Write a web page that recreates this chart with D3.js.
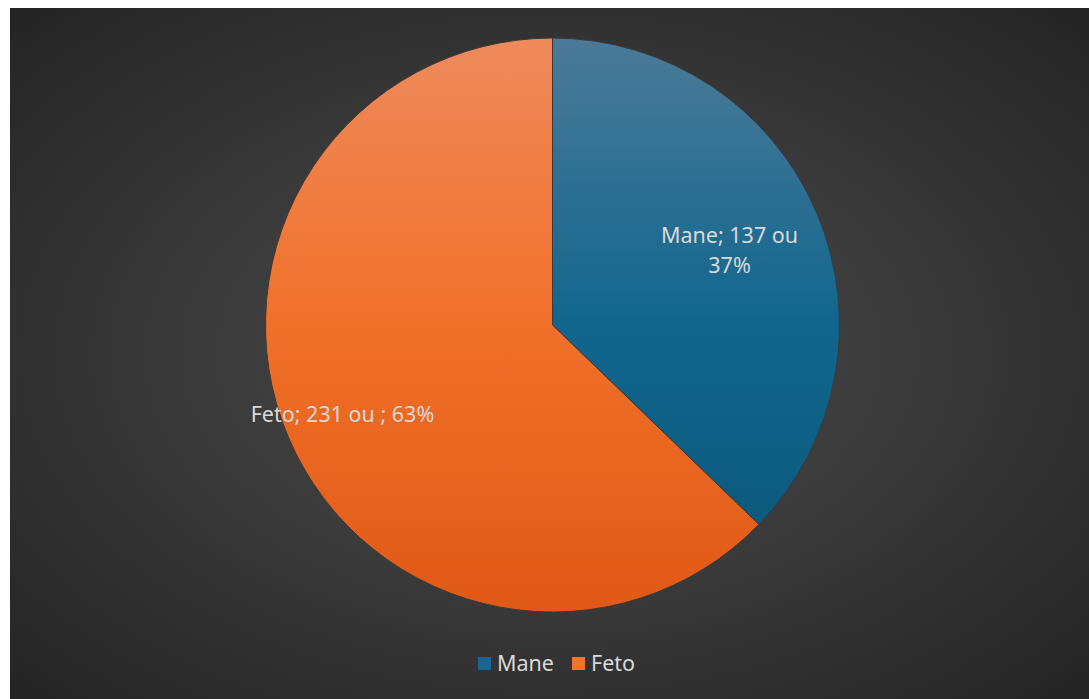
<!DOCTYPE html>
<html>
<head>
<meta charset="utf-8">
<script src="https://cdn.jsdelivr.net/npm/d3@7"></script>
<style>
  body { margin: 0; background: #ffffff; }
  svg text { font-family: "Noto Sans", "Open Sans", sans-serif; }
</style>
</head>
<body>
<script>
const categories = ["Mane", "Feto"];
const values = [137, 231];
const labels = ["Mane; 137 ou|37%", "Feto; 231 ou ; 63%"];

const W = 1089, H = 699;
const cx = 552.5, cy = 325, R = 287;

const svg = d3.select("body").append("svg")
  .attr("width", W)
  .attr("height", H);

const defs = svg.append("defs");

// background radial gradient
const bg = defs.append("radialGradient").attr("id", "bg")
  .attr("cx", "50%").attr("cy", "50%").attr("r", "70%");
bg.append("stop").attr("offset", "0%").attr("stop-color", "#4e4e4e");
bg.append("stop").attr("offset", "100%").attr("stop-color", "#242424");

const gradStops = [
  ["#4b7a98", "#11668e", "#0a5476"],
  ["#ef8a5c", "#f1702a", "#e05916"]
];
gradStops.forEach((s, i) => {
  const g = defs.append("linearGradient").attr("id", "g" + i)
    .attr("gradientUnits", "userSpaceOnUse")
    .attr("x1", 0).attr("y1", -R).attr("x2", 0).attr("y2", R);
  g.append("stop").attr("offset", "0%").attr("stop-color", s[0]);
  g.append("stop").attr("offset", "50%").attr("stop-color", s[1]);
  g.append("stop").attr("offset", "100%").attr("stop-color", s[2]);
});

svg.append("rect")
  .attr("x", 10).attr("y", 8)
  .attr("width", W - 10).attr("height", H - 8)
  .attr("fill", "url(#bg)");

const pie = d3.pie().sort(null).value(d => d)(values);
const arc = d3.arc().innerRadius(0).outerRadius(R);

const g = svg.append("g").attr("transform", `translate(${cx},${cy})`);

g.selectAll("path")
  .data(pie)
  .enter().append("path")
  .attr("d", arc)
  .attr("fill", (d, i) => `url(#g${i})`)
  .attr("stroke", "#3a3a3a")
  .attr("stroke-width", 1);

// data labels
const labelR = [0.67, 0.795];
pie.forEach((d, i) => {
  const a = (d.startAngle + d.endAngle) / 2;
  const x = Math.sin(a) * R * labelR[i];
  const y = -Math.cos(a) * R * labelR[i];
  const lines = labels[i].split("|");
  const t = g.append("text")
    .attr("text-anchor", "middle")
    .attr("fill", "#d9d9d9")
    .attr("font-size", 21.5);
  lines.forEach((ln, j) => {
    t.append("tspan")
      .attr("x", x)
      .attr("y", y + 8 + (j - (lines.length - 1) / 2) * 30)
      .text(ln);
  });
});

// legend
const legend = svg.append("g").attr("transform", "translate(478,657)");
const colors = ["#1a6690", "#f07330"];
const offsets = [0, 94];
categories.forEach((c, i) => {
  const lg = legend.append("g").attr("transform", `translate(${offsets[i]},0)`);
  lg.append("rect").attr("width", 13).attr("height", 13).attr("fill", colors[i]);
  lg.append("text").attr("x", 19).attr("y", 14)
    .attr("fill", "#d9d9d9").attr("font-size", 21.5)
    .text(c);
});
</script>
</body>
</html>
